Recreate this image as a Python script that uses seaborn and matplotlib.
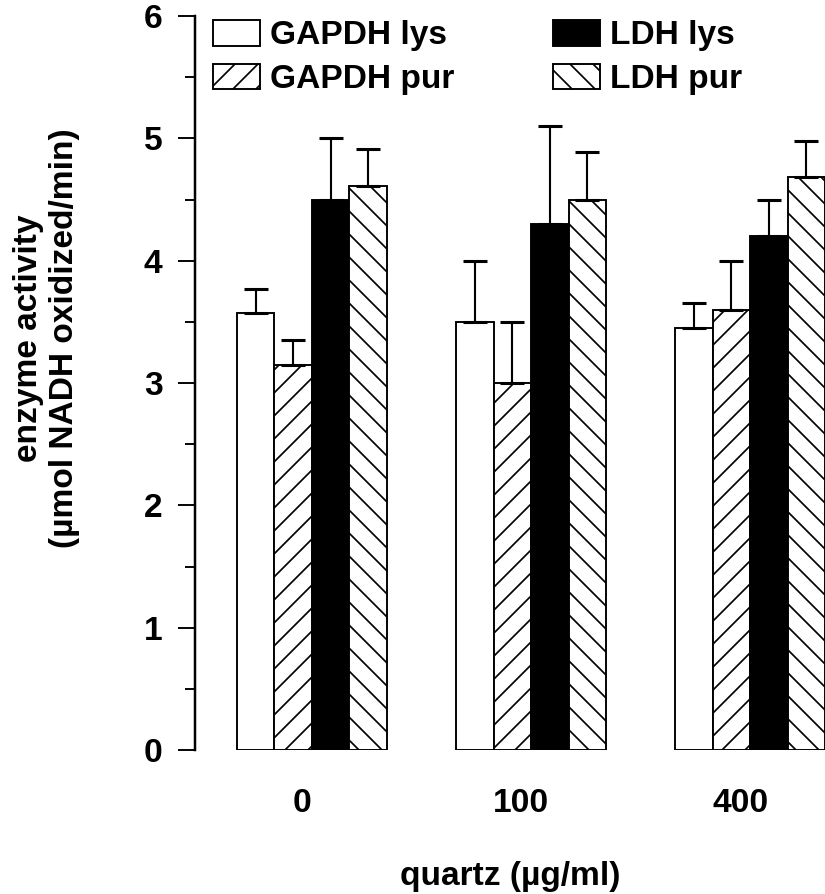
import numpy as np
import pandas as pd
import matplotlib
matplotlib.use("Agg")
import matplotlib.pyplot as plt
import matplotlib.transforms as mtransforms
from matplotlib.ticker import MultipleLocator
import seaborn as sns


# ==================================
# DATA
# ==================================

doses = ["0", "100", "400"]
enzymes = ["GAPDH lys", "GAPDH pur", "LDH lys", "LDH pur"]

gapdh_lys = [3.57, 3.50, 3.45]
gapdh_pur = [3.15, 3.00, 3.60]
ldh_lys = [4.50, 4.30, 4.20]
ldh_pur = [4.61, 4.50, 4.68]

gapdh_lys_err = [0.20, 0.50, 0.20]
gapdh_pur_err = [0.20, 0.50, 0.40]
ldh_lys_err = [0.50, 0.80, 0.30]
ldh_pur_err = [0.30, 0.39, 0.30]

y_ticks = [0, 1, 2, 3, 4, 5, 6]

values = [gapdh_lys, gapdh_pur, ldh_lys, ldh_pur]
errors = [gapdh_lys_err, gapdh_pur_err, ldh_lys_err, ldh_pur_err]

df = pd.DataFrame({
    "dose": doses * len(enzymes),
    "enzyme": np.repeat(enzymes, len(doses)),
    "activity": np.concatenate(values),
})


# ==================================
# STYLE
# ==================================

sns.set_style("ticks")
plt.rcParams["font.family"] = ["Liberation Sans", "DejaVu Sans"]
plt.rcParams["font.weight"] = "bold"
plt.rcParams["hatch.linewidth"] = 0.9
plt.rcParams["text.color"] = "black"
plt.rcParams["axes.labelcolor"] = "black"
plt.rcParams["axes.edgecolor"] = "black"
plt.rcParams["xtick.color"] = "black"
plt.rcParams["ytick.color"] = "black"

DPI = 138
fig = plt.figure(figsize=(825 / DPI, 894 / DPI), dpi=DPI)
ax = fig.add_axes([195 / 825, 144 / 894, 630 / 825, 734 / 894])

colors = ["white", "white", "black", "white"]
hatches = ["", "//", "", "\\\\"]


# ==================================
# BARS
# ==================================

sns.barplot(
    data=df,
    x="dose",
    y="activity",
    hue="enzyme",
    order=doses,
    hue_order=enzymes,
    palette=colors,
    saturation=1,
    edgecolor="black",
    linewidth=1.0,
    width=0.685,
    errorbar=None,
    legend=False,
    ax=ax,
)

bar_groups = list(ax.containers)

for i, cont in enumerate(bar_groups):
    bars = sorted(cont.patches, key=lambda p: p.get_x())
    xs = []
    ys = []
    for bar in bars:
        bar.set_hatch(hatches[i])
        bar.set_edgecolor("black")
        xs.append(bar.get_x() + bar.get_width() / 2)
        ys.append(bar.get_height())
    err = errors[i]
    ax.errorbar(
        xs, ys,
        yerr=[np.zeros(len(err)), err],
        fmt="none",
        ecolor="black",
        elinewidth=1.1,
        capsize=6.3,
        capthick=1.6,
        zorder=3,
    )


# ==================================
# AXES
# ==================================

ax.set_ylim(0, 6)
ax.set_xlim(-0.534, 2.342)
ax.set_yticks(y_ticks)
ax.yaxis.set_minor_locator(MultipleLocator(0.5))

ax.spines["top"].set_visible(False)
ax.spines["right"].set_visible(False)
ax.spines["bottom"].set_visible(False)
ax.spines["left"].set_linewidth(1.3)

ax.tick_params(axis="y", which="major", length=8.9, width=1.0,
               labelsize=17.5, pad=8)
ax.tick_params(axis="y", which="minor", length=5.2, width=1.0)
ax.tick_params(axis="x", which="major", length=0, labelsize=17.5, pad=20)

shift = mtransforms.ScaledTranslation(-10 / DPI, 0, fig.dpi_scale_trans)
for lab in ax.get_xticklabels():
    lab.set_transform(lab.get_transform() + shift)

ax.set_xlabel("quartz (µg/ml)", fontsize=17.5, fontweight="bold",
              labelpad=22)
ax.set_ylabel("enzyme activity\n(µmol NADH oxidized/min)", fontsize=17.5,
              fontweight="bold", linespacing=1.2)
ax.yaxis.set_label_coords(-0.183, 0.561)


# ==================================
# LEGEND
# ==================================

handles = [cont.patches[0] for cont in bar_groups]
ax.legend(
    handles,
    enzymes,
    ncol=2,
    loc="upper left",
    bbox_to_anchor=(213 / 825, 1 - 20 / 894),
    bbox_transform=fig.transFigure,
    frameon=False,
    fontsize=17.5,
    borderpad=0,
    borderaxespad=0,
    handlelength=1.4,
    handleheight=0.8,
    handletextpad=0.3,
    columnspacing=2.95,
    labelspacing=0.36,
)

fig.savefig("out.png", dpi=DPI)
